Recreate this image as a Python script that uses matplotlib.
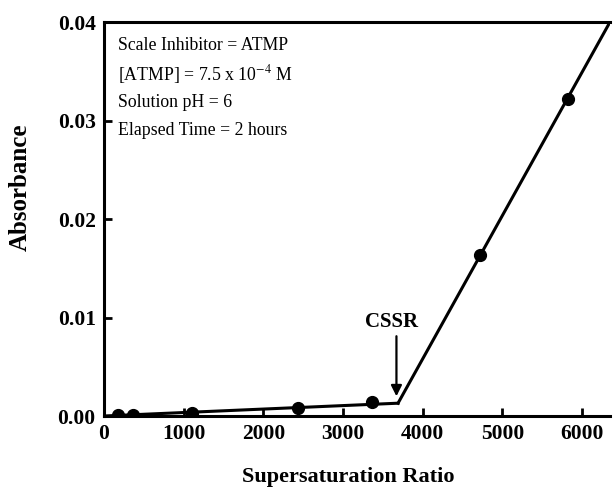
import matplotlib
matplotlib.use('Agg')
import matplotlib.pyplot as plt

plt.rcParams['font.family'] = ['Liberation Serif', 'DejaVu Serif']
plt.rcParams['mathtext.fontset'] = 'stix'

# gemessene punkte
ssr = [175, 365, 1100, 2435, 3360, 4718, 5822]
absorbans = [0.0001, 0.0001, 0.0003, 0.0008, 0.0014, 0.0163, 0.0322]

# to rette linjer, knekk ved CSSR
linje1_x = [0, 3690]
linje1_y = [0.0, 0.0013]
linje2_x = [3690, 6350]
linje2_y = [0.0013, 0.040]

cssr_x = 3670

info_tekst = ['Scale Inhibitor = ATMP',
              r'[ATMP] = 7.5 x 10$^{-4}$ M',
              'Solution pH = 6',
              'Elapsed Time = 2 hours']

fig = plt.figure(figsize=(6.15, 4.9), dpi=100)
ax = fig.add_axes([104 / 615, 1 - 416 / 490, 506 / 615, 394 / 490])

ax.plot(linje1_x, linje1_y, color='black', lw=2.2)
ax.plot(linje2_x, linje2_y, color='black', lw=2.2)
ax.plot(ssr, absorbans, 'o', color='black', ms=8.5)

# CSSR pil
ax.annotate('', xy=(cssr_x, 0.0020), xytext=(cssr_x, 0.0081),
            arrowprops=dict(arrowstyle='-|>', color='black', lw=1.6,
                            mutation_scale=16, shrinkA=0, shrinkB=0))
ax.text(3610, 0.0085, 'CSSR', ha='center', va='bottom',
        fontsize=15, fontweight='bold')

for i, t in enumerate(info_tekst):
    ax.text(0.028, 0.94 - i * 0.072, t, transform=ax.transAxes,
            fontsize=12.8, va='center', ha='left')

ax.set_xlim(0, 6350)
ax.set_ylim(0, 0.04)
ax.set_xticks([0, 1000, 2000, 3000, 4000, 5000, 6000])
ax.set_yticks([0.00, 0.01, 0.02, 0.03, 0.04])
ax.set_yticklabels(['0.00', '0.01', '0.02', '0.03', '0.04'])

for side in ['left', 'bottom', 'top']:
    ax.spines[side].set_linewidth(2.2)
ax.spines['right'].set_visible(False)

ax.tick_params(direction='in', length=6, width=2, labelsize=15.5, pad=6)
for lab in ax.get_xticklabels() + ax.get_yticklabels():
    lab.set_fontweight('bold')

ax.set_xlabel('Supersaturation Ratio', fontsize=16, fontweight='bold')
ax.set_ylabel('Absorbance', fontsize=18, fontweight='bold')
ax.xaxis.set_label_coords(0.482, -0.155)
ax.yaxis.set_label_coords(-0.166, 0.58)
ax.xaxis.label.set_va('center')
ax.yaxis.label.set_va('center')

fig.savefig('out.png', dpi=100)
